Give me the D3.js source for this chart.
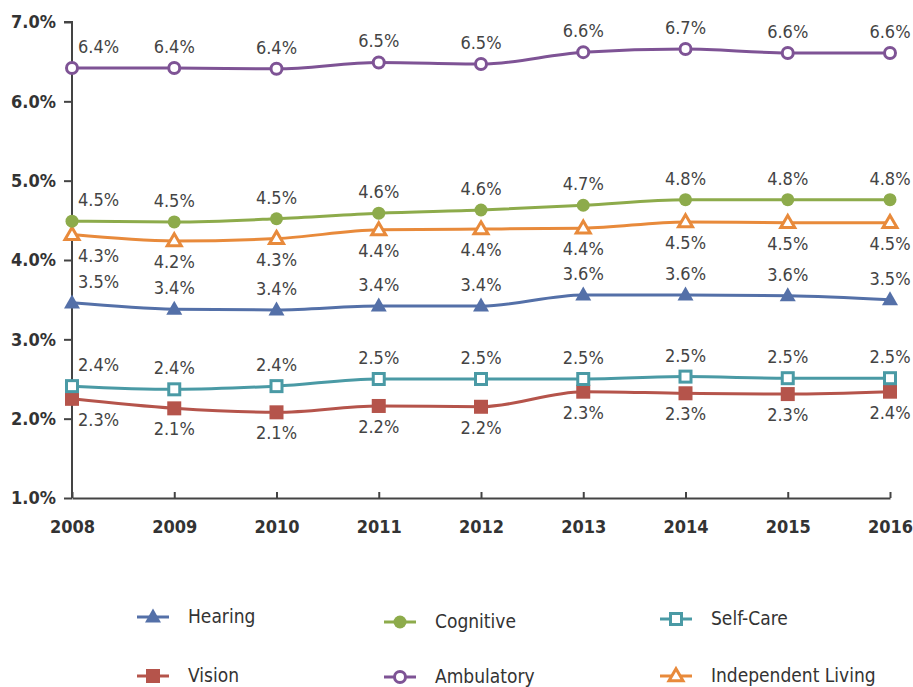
<!DOCTYPE html>
<html><head><meta charset="utf-8">
<script src="https://cdn.jsdelivr.net/npm/d3@7"></script>
<style>
body{margin:0;background:#fff;}
svg{display:block;}
</style></head>
<body>
<svg id="chart" width="913" height="687"></svg>
<script>
const years = ["2008","2009","2010","2011","2012","2013","2014","2015","2016"];
const yTicks = [1,2,3,4,5,6,7];
const seriesNames = ["Hearing","Cognitive","Self-Care","Vision","Ambulatory","Independent Living"];
const hearing    = [3.46,3.38,3.37,3.42,3.42,3.56,3.56,3.55,3.50];
const cognitive  = [4.49,4.48,4.52,4.59,4.63,4.69,4.76,4.76,4.76];
const selfCare   = [2.41,2.37,2.41,2.50,2.50,2.50,2.53,2.51,2.51];
const vision     = [2.25,2.13,2.08,2.16,2.15,2.34,2.32,2.31,2.34];
const ambulatory = [6.42,6.42,6.41,6.49,6.47,6.62,6.66,6.61,6.61];
const independent= [4.32,4.24,4.27,4.38,4.39,4.40,4.48,4.47,4.47];
const hearingLbl    = ["3.5%","3.4%","3.4%","3.4%","3.4%","3.6%","3.6%","3.6%","3.5%"];
const cognitiveLbl  = ["4.5%","4.5%","4.5%","4.6%","4.6%","4.7%","4.8%","4.8%","4.8%"];
const selfCareLbl   = ["2.4%","2.4%","2.4%","2.5%","2.5%","2.5%","2.5%","2.5%","2.5%"];
const visionLbl     = ["2.3%","2.1%","2.1%","2.2%","2.2%","2.3%","2.3%","2.3%","2.4%"];
const ambulatoryLbl = ["6.4%","6.4%","6.4%","6.5%","6.5%","6.6%","6.7%","6.6%","6.6%"];
const independentLbl= ["4.3%","4.2%","4.3%","4.4%","4.4%","4.4%","4.5%","4.5%","4.5%"];

const series = [
  {name:"Hearing", values:hearing, labels:hearingLbl, color:"#5470a8", shape:"triangle", filled:true, below:false},
  {name:"Cognitive", values:cognitive, labels:cognitiveLbl, color:"#8dab4b", shape:"circle", filled:true, below:false},
  {name:"Self-Care", values:selfCare, labels:selfCareLbl, color:"#4a9aa5", shape:"square", filled:false, below:false},
  {name:"Vision", values:vision, labels:visionLbl, color:"#b5544b", shape:"square", filled:true, below:true},
  {name:"Ambulatory", values:ambulatory, labels:ambulatoryLbl, color:"#7e5395", shape:"circle", filled:false, below:false},
  {name:"Independent Living", values:independent, labels:independentLbl, color:"#e88a3b", shape:"triangle", filled:false, below:true}
];

const svg = d3.select("#chart");
const font = "'DejaVu Sans Condensed','DejaVu Sans',sans-serif";
const x = d3.scalePoint().domain(years).range([72, 890]);
const y = d3.scaleLinear().domain([1,7]).range([498, 22]);

// axes
const yAxis = svg.append("g").attr("transform","translate(72,0)")
  .call(d3.axisLeft(y).tickValues(yTicks).tickSize(8).tickFormat(d=>d.toFixed(1)+"%"));
yAxis.select(".domain").attr("d","M-8,22H0V498").attr("stroke","#444").attr("stroke-width",2);
yAxis.selectAll(".tick line").attr("stroke","#444").attr("stroke-width",2);
yAxis.selectAll(".tick text").attr("font-family",font).attr("font-size",18).attr("font-weight","bold")
  .attr("fill","#333").attr("x",-16);

const xAxis = svg.append("g").attr("transform","translate(0,498)")
  .call(d3.axisBottom(x).tickSize(-6).tickSizeOuter(0));
xAxis.select(".domain").attr("stroke","#444").attr("stroke-width",2);
xAxis.selectAll(".tick line").attr("stroke","#444").attr("stroke-width",2);
xAxis.selectAll(".tick text").attr("font-family",font).attr("font-size",18).attr("font-weight","bold")
  .attr("fill","#333").attr("y",22);

const line = d3.line().x((d,i)=>x(years[i])).y(d=>y(d)).curve(d3.curveMonotoneX);

function drawMarker(g, shape, color, filled, cx, cy){
  const sw = 3;
  const fill = filled ? color : "#fff";
  if(shape==="circle"){
    g.append("circle").attr("cx",cx).attr("cy",cy).attr("r",filled?6.5:5.5)
      .attr("fill",fill).attr("stroke",color).attr("stroke-width",filled?0:sw);
  } else if(shape==="square"){
    const s = filled?14:11;
    g.append("rect").attr("x",cx-s/2).attr("y",cy-s/2).attr("width",s).attr("height",s)
      .attr("fill",fill).attr("stroke",color).attr("stroke-width",filled?0:sw);
  } else {
    const h = filled?14:12, w = filled?16:14;
    g.append("path").attr("d",`M${cx},${cy-h*0.6}L${cx+w/2},${cy+h*0.4}L${cx-w/2},${cy+h*0.4}Z`)
      .attr("fill",fill).attr("stroke",color).attr("stroke-width",filled?0:sw).attr("stroke-linejoin","miter");
  }
}

const order = ["Vision","Self-Care","Hearing","Independent Living","Cognitive","Ambulatory"];
order.forEach(nm=>{
  const s = series.find(d=>d.name===nm);
  const g = svg.append("g");
  g.append("path").attr("d",line(s.values)).attr("fill","none").attr("stroke",s.color).attr("stroke-width",3);
  s.values.forEach((v,i)=>drawMarker(g,s.shape,s.color,s.filled,x(years[i]),y(v)));
});
series.forEach(s=>{
  s.values.forEach((v,i)=>{
    const cx = x(years[i]), cy = y(v);
    svg.append("text").text(s.labels[i])
      .attr("x", i===0 ? cx+6 : cx)
      .attr("y", s.below ? cy+27 : cy-15)
      .attr("text-anchor", i===0 ? "start" : "middle")
      .attr("font-family",font).attr("font-size",18).attr("fill","#444");
  });
});

const legPos = [
  {name:"Hearing", x:153, y:617},
  {name:"Cognitive", x:400, y:622},
  {name:"Self-Care", x:676, y:619},
  {name:"Vision", x:153, y:676},
  {name:"Ambulatory", x:400, y:677},
  {name:"Independent Living", x:676, y:676}
];
legPos.forEach(p=>{
  const s = series.find(d=>d.name===p.name);
  const g = svg.append("g");
  g.append("line").attr("x1",p.x-16).attr("x2",p.x+16).attr("y1",p.y).attr("y2",p.y)
    .attr("stroke",s.color).attr("stroke-width",3);
  drawMarker(g,s.shape,s.color,s.filled,p.x,p.y);
  g.append("text").text(s.name).attr("x",p.x+35).attr("y",p.y+6)
    .attr("font-family",font).attr("font-size",19).attr("fill","#333");
});
</script>
</body></html>
